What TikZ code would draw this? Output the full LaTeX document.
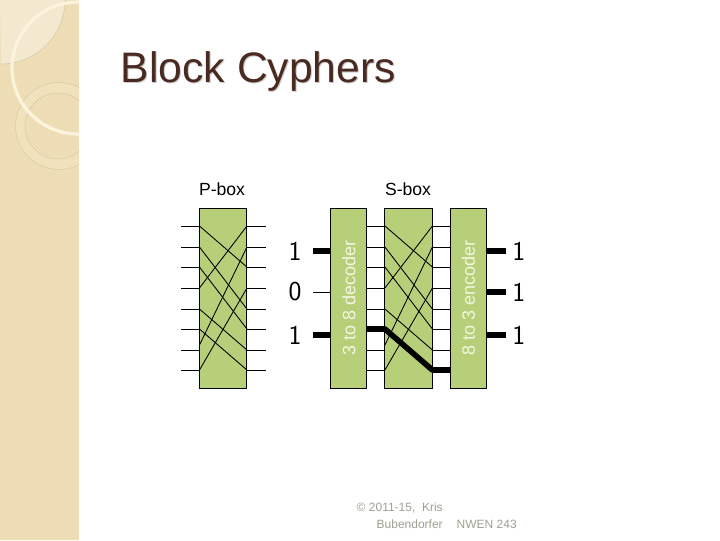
\documentclass[tikz,border=0pt]{standalone}
\usepackage{fontspec}
\setmainfont{Liberation Sans}
\usetikzlibrary{positioning,patterns}
\definecolor{panelbeige}{HTML}{ECDBB0}
\definecolor{panellight}{HTML}{F3E8CE}
\definecolor{panelring}{HTML}{EFE0B8}
\definecolor{panelline}{HTML}{D8C9A2}
\definecolor{panelarc}{HTML}{FBF3DC}
\definecolor{boxgreen}{HTML}{B6CF78}
\definecolor{boxtext}{HTML}{F2F6E2}
\definecolor{titlebrown}{HTML}{4A2A20}
\definecolor{footgray}{HTML}{A09E90}

\begin{document}
\begin{tikzpicture}[x=0.75pt, y=-0.75pt,
      widebox/.style={draw=black, line width=0.75pt, fill=boxgreen, outer sep=0pt, inner sep=0pt,
                      minimum width=35.6pt, minimum height=135pt},
      narrowbox/.style={widebox, minimum width=27pt, text=boxtext, font=\fontsize{13.5}{15}\selectfont},
      wire/.style={draw=black, line width=0.65pt},
      hotwire/.style={draw=black, line width=4.2pt, line join=round},
      bitlabel/.style={font=\sffamily\fontsize{20.5}{22}\selectfont, inner sep=0pt},
      boxtitle/.style={font=\fontsize{13.2}{15}\selectfont, inner sep=0pt},
      foot/.style={font=\fontsize{9}{11}\selectfont, text=footgray, inner sep=0pt}]
      \useasboundingbox (0,0) rectangle (720,540);
      % side panel
      \fill[panelbeige] (0,0) rectangle (79,540);
      \begin{scope}
        \clip (0,0) rectangle (79,540);
        \fill[panellight] (0,0) -- (65,0) arc[start angle=0, end angle=90, radius=64] -- cycle;
        \draw[panelline, line width=0.5pt] (65,0) arc[start angle=0, end angle=90, radius=64];
        \fill[panelring, even odd rule] (59,126) circle[radius=43.5] (58,126) circle[radius=33];
        \draw[panelline, line width=0.5pt] (59,126) circle[radius=43.5] (58,126) circle[radius=33];
        \draw[panelarc, line width=2.5pt] (78,68) circle[radius=66];
        \fill[pattern=crosshatch dots, pattern color=panelarc] (0,0) rectangle (79,540);
      \end{scope}
      % title
      \node[font=\fontsize{32}{36}\selectfont, text=black!22, inner sep=0pt] at (259.5,72.5) {Block Cyphers};
      \node[font=\fontsize{32}{36}\selectfont, text=titlebrown, inner sep=0pt] (title) at (258.5,71) {Block Cyphers};
      % boxes
      \node[widebox] (pbox) at (223.2,298) {};
      \node[narrowbox, right=63pt of pbox] (dec) {\rotatebox{90}{3 to 8 decoder}};
      \node[widebox, right=13.5pt of dec] (sbox) {};
      \node[narrowbox, right=13.5pt of sbox] (enc) {\rotatebox{90}{8 to 3 encoder}};
      \node[boxtitle] (ptitle) at (222,189) {P-box};
      \node[boxtitle] (stitle) at (408,189) {S-box};
      % wire rows
      \foreach \n/\y in {1/226,2/247,3/267,4/288,5/309,6/329,7/350,8/370} {
        \coordinate (pl\n) at (181,\y);
        \coordinate (pr\n) at (266,\y);
        \coordinate (row\n) at (223,\y);
        \draw[wire] (pl\n) -- (pbox.west |- pl\n);
        \draw[wire] (pbox.east |- pr\n) -- (pr\n);
        \draw[wire] (dec.east |- row\n) -- (sbox.west |- row\n);
        \draw[wire] (sbox.east |- row\n) -- (enc.west |- row\n);
      }
      \coordinate (late) at (223,345);
      % crossings
      \foreach \a/\b in {1/3,2/5,3/6,4/1,5/7,6/8,8/4} {
        \draw[wire] (pbox.west |- row\a) -- (pbox.east |- row\b);
        \draw[wire] (sbox.west |- row\a) -- (sbox.east |- row\b);
      }
      \draw[wire] (pbox.west |- late) -- (pbox.east |- row2);
      \draw[wire] (sbox.west |- late) -- (sbox.east |- row2);
      % active path
      \draw[hotwire] (dec.east |- row6) -- (sbox.west |- row6) -- (sbox.east |- row8) -- (enc.west |- row8);
      % inputs
      \coordinate (ina) at (313,251);
      \coordinate (inb) at (313,292);
      \coordinate (inc) at (313,335);
      \node[bitlabel, left=8.5pt of ina] (bita) {1};
      \node[bitlabel, left=8.5pt of inb] (bitb) {0};
      \node[bitlabel, left=8.5pt of inc] (bitc) {1};
      \draw[hotwire] (ina) -- (dec.west |- ina);
      \draw[wire] (inb) -- (dec.west |- inb);
      \draw[hotwire] (inc) -- (dec.west |- inc);
      % outputs
      \coordinate (outa) at (506,251);
      \coordinate (outb) at (506,292);
      \coordinate (outc) at (506,335);
      \node[bitlabel, right=4.5pt of outa] (bitd) {1};
      \node[bitlabel, right=4.5pt of outb] (bite) {1};
      \node[bitlabel, right=4.5pt of outc] (bitf) {1};
      \foreach \o in {outa,outb,outc} {
        \draw[hotwire] (enc.east |- \o) -- (\o);
      }
      % footer
      \node[foot, anchor=east] (copy) at (443,508) {© 2011-15,\ \ Kris};
      \node[foot, anchor=east] (name) at (443,524) {Bubendorfer};
      \node[foot, anchor=east] (course) at (517,524) {NWEN 243};
    \end{tikzpicture}
\end{document}
